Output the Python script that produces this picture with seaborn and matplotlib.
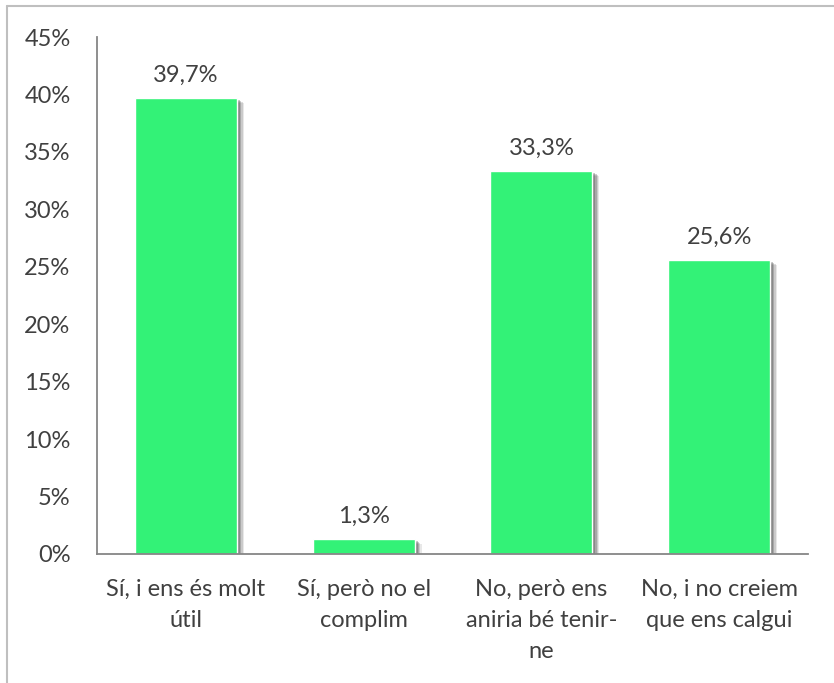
import matplotlib
matplotlib.use("Agg")
import matplotlib.pyplot as plt
import matplotlib.patheffects as pe
from matplotlib.lines import Line2D
import seaborn as sns

# Dades del gràfic
categories = ["Sí, i ens és molt\nútil", "Sí, però no el\ncomplim",
              "No, però ens\naniria bé tenir-\nne", "No, i no creiem\nque ens calgui"]
valors = [39.7, 1.3, 33.3, 25.6]
etiquetes = ["39,7%", "1,3%", "33,3%", "25,6%"]
yticks = [0, 5, 10, 15, 20, 25, 30, 35, 40, 45]

sns.set_style("white")
plt.rcParams["font.family"] = ["Lato", "DejaVu Sans"]

fig = plt.figure(figsize=(8.34, 6.83), dpi=100)
ax = fig.add_axes([97 / 834, 1 - 554 / 683, 711 / 834, 517 / 683])

sns.barplot(x=categories, y=valors, color="#33F277", saturation=1, width=0.575, ax=ax)

# ombra difuminada a la dreta i a baix
ombra = [pe.SimplePatchShadow(offset=(d, -d * 0.7), shadow_rgbFace="#444444", alpha=a)
         for d, a in [(5, 0.12), (4, 0.18), (3, 0.25), (2, 0.3)]]
for p in ax.patches:
    p.set_path_effects(ombra + [pe.Normal()])

for i, (v, t) in enumerate(zip(valors, etiquetes)):
    ax.annotate(t, (i, v), xytext=(0, 9), textcoords="offset points",
                ha="center", va="bottom", fontsize=17, color="#404040")

ax.set_ylim(0, 45)
ax.set_yticks(yticks)
ax.set_yticklabels([f"{t}%" for t in yticks])
ax.set_xlim(-0.5, 3.5)
ax.tick_params(axis="both", length=0, labelsize=17, labelcolor="#404040")
ax.tick_params(axis="y", pad=19)
ax.tick_params(axis="x", pad=18)
for lbl in ax.get_xticklabels():
    lbl.set_linespacing(1.6)

sns.despine(ax=ax, top=True, right=True)
for s in ["left", "bottom"]:
    ax.spines[s].set_color("#868686")
    ax.spines[s].set_linewidth(1.3)

# Vora exterior (només superior i esquerra visibles)
fig.add_artist(Line2D([7 / 834, 1], [1 - 6 / 683, 1 - 6 / 683], color="#BFBFBF", lw=1.5))
fig.add_artist(Line2D([7 / 834, 7 / 834], [0, 1 - 6 / 683], color="#BFBFBF", lw=1.5))

fig.savefig("out.png", dpi=100)
